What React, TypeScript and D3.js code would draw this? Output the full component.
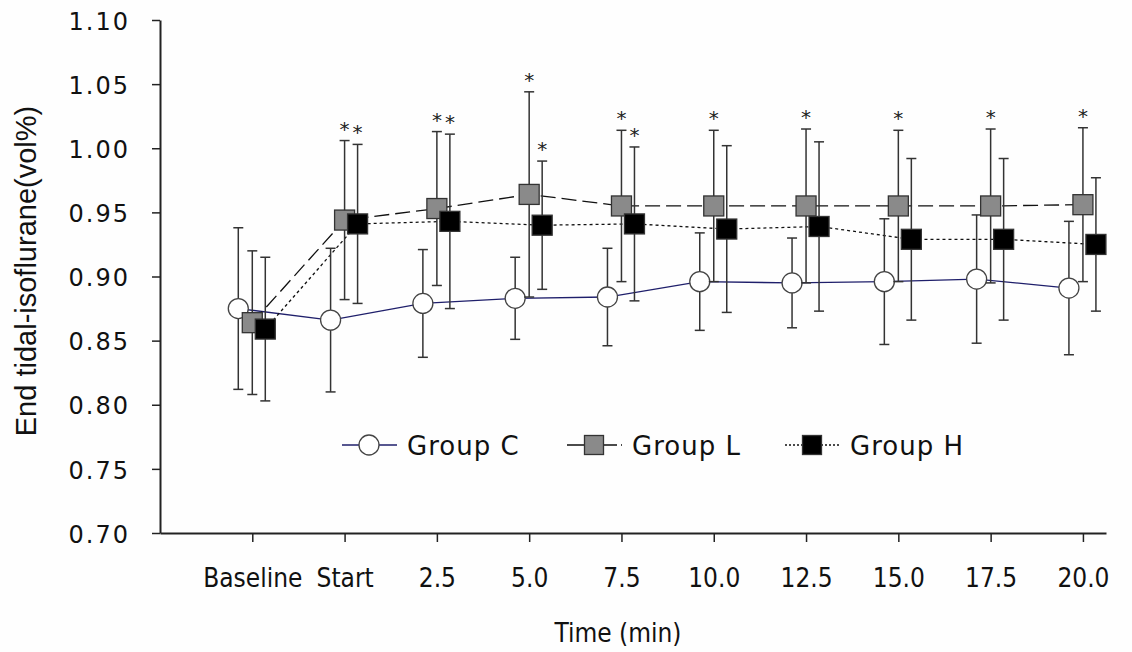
import React, { useEffect, useRef } from 'react';
import * as d3 from 'd3';

// time points on the x axis
const timeLabels = ['Baseline', 'Start', '2.5', '5.0', '7.5', '10.0', '12.5', '15.0', '17.5', '20.0'];

// mean and SD of end tidal isoflurane (vol%)
const groupC = [0.875, 0.866, 0.879, 0.883, 0.884, 0.896, 0.895, 0.896, 0.898, 0.891];
const groupCSd = [0.063, 0.056, 0.042, 0.032, 0.038, 0.038, 0.035, 0.049, 0.05, 0.052];
const groupL = [0.864, 0.944, 0.953, 0.964, 0.955, 0.955, 0.955, 0.955, 0.955, 0.956];
const groupLSd = [0.056, 0.062, 0.06, 0.08, 0.059, 0.059, 0.06, 0.059, 0.06, 0.06];
const groupH = [0.859, 0.941, 0.943, 0.94, 0.941, 0.937, 0.939, 0.929, 0.929, 0.925];
const groupHSd = [0.056, 0.062, 0.068, 0.05, 0.06, 0.065, 0.066, 0.063, 0.063, 0.052];

// significance markers (*) over each group
const sigC = [false, false, false, false, false, false, false, false, false, false];
const sigL = [false, true, true, true, true, true, true, true, true, true];
const sigH = [false, true, true, true, true, false, false, false, false, false];

const yTicks = [0.7, 0.75, 0.8, 0.85, 0.9, 0.95, 1.0, 1.05, 1.1];

const series = [
  { name: 'Group C', mean: groupC, sd: groupCSd, sig: sigC, shape: 'circle', fill: '#ffffff', line: '#1f1f6b', dash: null, shift: -14 },
  { name: 'Group L', mean: groupL, sd: groupLSd, sig: sigL, shape: 'square', fill: '#8a8a8a', line: '#111111', dash: '15,6', shift: 0 },
  { name: 'Group H', mean: groupH, sd: groupHSd, sig: sigH, shape: 'square', fill: '#000000', line: '#111111', dash: '3,3', shift: 13 },
];

const App = () => {
  const svgRef = useRef<SVGSVGElement>(null);

  useEffect(() => {
    const svg = d3.select(svgRef.current);
    svg.selectAll('*').remove();

    const width = 1132;
    const height = 652;
    const axisLeftX = 160;
    const axisBottomY = 533;

    svg.attr('width', width).attr('height', height);
    svg.append('rect').attr('width', width).attr('height', height).attr('fill', '#fefefe');

    const x = d3.scaleLinear().domain([-1, 9.25]).range([axisLeftX, 1106]);
    const y = d3.scaleLinear().domain([0.7, 1.1]).range([axisBottomY, 20]);

    // Y axis
    const yAxis = svg.append('g')
      .attr('transform', `translate(${axisLeftX},0)`)
      .call(d3.axisLeft(y).tickValues(yTicks).tickFormat(d3.format('.2f')).tickSize(8).tickPadding(22).tickSizeOuter(0));
    yAxis.select('.domain').attr('stroke', '#222').attr('stroke-width', 2);
    yAxis.selectAll('.tick line').attr('stroke', '#222').attr('stroke-width', 1.5);
    yAxis.selectAll('.tick text')
      .attr('fill', '#111')
      .attr('dy', '0.38em')
      .style('font-family', '"DejaVu Sans", sans-serif')
      .style('font-size', '24px')
      .style('letter-spacing', '2px');

    // X axis
    const xAxis = svg.append('g')
      .attr('transform', `translate(0,${axisBottomY})`)
      .call(d3.axisBottom(x)
        .tickValues(d3.range(timeLabels.length))
        .tickFormat((d) => timeLabels[d as number])
        .tickSize(9).tickPadding(27).tickSizeOuter(0));
    xAxis.select('.domain').attr('stroke', '#222').attr('stroke-width', 2);
    xAxis.selectAll('.tick line').attr('stroke', '#222').attr('stroke-width', 1.5);
    xAxis.selectAll('.tick text')
      .attr('fill', '#111')
      .style('font-family', '"Liberation Sans Narrow", "DejaVu Sans Condensed", sans-serif')
      .style('font-size', '26px');

    // axis titles
    svg.append('text')
      .attr('transform', 'translate(26,271) rotate(-90)')
      .attr('text-anchor', 'middle')
      .attr('dominant-baseline', 'central')
      .style('font-family', '"Liberation Sans", Arial, sans-serif')
      .style('font-size', '29px')
      .attr('fill', '#111')
      .text('End tidal-isoflurane(vol%)');

    svg.append('text')
      .attr('x', 618)
      .attr('y', 642)
      .attr('text-anchor', 'middle')
      .style('font-family', '"Liberation Sans Narrow", "DejaVu Sans Condensed", sans-serif')
      .style('font-size', '26px')
      .attr('fill', '#111')
      .text('Time (min)');

    // connecting lines
    series.forEach((s) => {
      const line = d3.line<number>()
        .x((d, i) => x(i) + s.shift)
        .y((d) => y(d));
      svg.append('path')
        .datum(s.mean)
        .attr('fill', 'none')
        .attr('stroke', s.line)
        .attr('stroke-width', 1.3)
        .attr('stroke-dasharray', s.dash)
        .attr('d', line);
    });

    // error bars, markers, asterisks
    series.forEach((s) => {
      const g = svg.append('g');
      s.mean.forEach((m, i) => {
        const cx = x(i) + s.shift;
        const top = y(m + s.sd[i]);
        const bottom = y(m - s.sd[i]);
        g.append('line')
          .attr('x1', cx).attr('x2', cx).attr('y1', top).attr('y2', bottom)
          .attr('stroke', '#333').attr('stroke-width', 1.5);
        [top, bottom].forEach((yy) => {
          g.append('line')
            .attr('x1', cx - 5).attr('x2', cx + 5).attr('y1', yy).attr('y2', yy)
            .attr('stroke', '#333').attr('stroke-width', 1.5);
        });
        if (s.sig[i]) {
          g.append('text')
            .attr('x', cx)
            .attr('y', top - 16 + 11)
            .attr('text-anchor', 'middle')
            .style('font-family', '"DejaVu Sans", sans-serif')
            .style('font-size', '20px')
            .attr('fill', '#222')
            .text('*');
        }
      });
      s.mean.forEach((m, i) => {
        const cx = x(i) + s.shift;
        const cy = y(m);
        if (s.shape === 'circle') {
          g.append('circle')
            .attr('cx', cx).attr('cy', cy).attr('r', 10)
            .attr('fill', s.fill).attr('stroke', '#444').attr('stroke-width', 1.3);
        } else {
          g.append('rect')
            .attr('x', cx - 10).attr('y', cy - 10).attr('width', 20).attr('height', 20)
            .attr('fill', s.fill).attr('stroke', '#333').attr('stroke-width', 1.3);
        }
      });
    });

    // legend
    const legendX = [342, 567, 785];
    const legendY = 445;
    series.forEach((s, k) => {
      const lx = legendX[k];
      const g = svg.append('g');
      g.append('line')
        .attr('x1', lx).attr('x2', lx + 55).attr('y1', legendY).attr('y2', legendY)
        .attr('stroke', s.line).attr('stroke-width', 1.3)
        .attr('stroke-dasharray', s.dash ? (k === 1 ? '20,4,2,4' : '2,2') : null);
      if (s.shape === 'circle') {
        g.append('circle')
          .attr('cx', lx + 27).attr('cy', legendY).attr('r', 10)
          .attr('fill', s.fill).attr('stroke', '#444').attr('stroke-width', 1.3);
      } else {
        g.append('rect')
          .attr('x', lx + 27 - 9.5).attr('y', legendY - 9.5).attr('width', 19).attr('height', 19)
          .attr('fill', s.fill).attr('stroke', '#333').attr('stroke-width', 1.3);
      }
      g.append('text')
        .attr('x', lx + 65)
        .attr('y', legendY + 10)
        .style('font-family', '"DejaVu Sans", sans-serif')
        .style('font-size', '26px')
        .style('letter-spacing', '1px')
        .attr('fill', '#111')
        .text(s.name);
    });
  }, []);

  return (
    <div style={{ position: 'absolute', left: 0, top: 0 }}>
      <svg ref={svgRef} style={{ display: 'block' }}></svg>
    </div>
  );
};

export default App;
